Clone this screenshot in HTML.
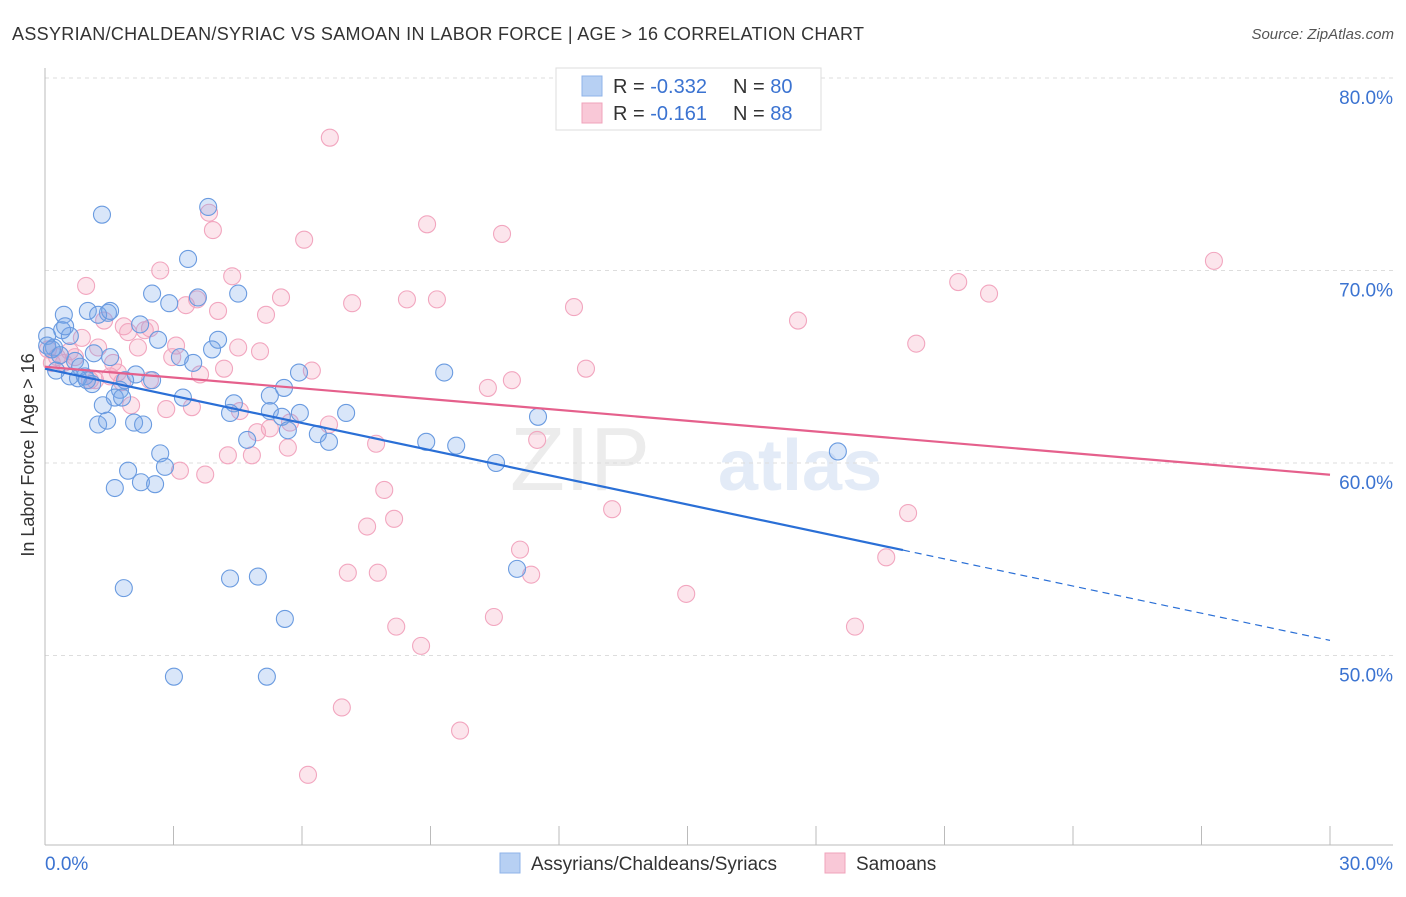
<!DOCTYPE html>
<html><head><meta charset="utf-8"><style>
body{margin:0;background:#fff;font-family:"Liberation Sans",sans-serif;}
svg text{font-family:"Liberation Sans",sans-serif;}
</style></head><body>
<svg id="chart" width="1406" height="892" xmlns="http://www.w3.org/2000/svg">
<text x="12" y="40" font-size="18" fill="#333" textLength="852" lengthAdjust="spacing">ASSYRIAN/CHALDEAN/SYRIAC VS SAMOAN IN LABOR FORCE | AGE &gt; 16 CORRELATION CHART</text>
<text x="1394" y="39" font-size="15" fill="#555" font-style="italic" text-anchor="end">Source: ZipAtlas.com</text>
<text x="650" y="490" font-size="90" fill="#ececec" font-family="Liberation Serif" text-anchor="end">ZIP</text>
<text x="718" y="490" font-size="72" fill="#e3ebf7" font-weight="bold">atlas</text>
<g id="grid"></g>
<g id="axes"></g>
<g id="pts"></g>
<g id="trend"></g>
<text x="34" y="455" font-size="18" fill="#333" text-anchor="middle" transform="rotate(-90 34 455)">In Labor Force | Age &gt; 16</text>
<g>
<rect x="556" y="68" width="265" height="62" fill="#fff" stroke="#ddd"/>
<rect x="582" y="76" width="20" height="20" fill="#b7d0f3" stroke="#8fb3e8"/>
<rect x="582" y="103" width="20" height="20" fill="#f9c8d7" stroke="#f0a3bb"/>
<text x="613" y="93" font-size="20" fill="#333">R = <tspan fill="#3b73d1">-0.332</tspan></text>
<text x="733" y="93" font-size="20" fill="#333">N = <tspan fill="#3b73d1">80</tspan></text>
<text x="613" y="120" font-size="20" fill="#333">R = <tspan fill="#3b73d1"> -0.161</tspan></text>
<text x="733" y="120" font-size="20" fill="#333">N = <tspan fill="#3b73d1"> 88</tspan></text>
</g>
<g>
<rect x="500" y="853" width="20" height="20" fill="#b7d0f3" stroke="#8fb3e8"/>
<text x="531" y="870" font-size="19" fill="#333">Assyrians/Chaldeans/Syriacs</text>
<rect x="825" y="853" width="20" height="20" fill="#f9c8d7" stroke="#f0a3bb"/>
<text x="856" y="870" font-size="19" fill="#333">Samoans</text>
</g>
</svg>
<script>
const blueX=[1.33,3.81,3.34,2.50,3.57,4.51,2.90,0.44,1.00,1.47,1.24,0.40,0.05,0.58,0.21,2.22,2.64,4.04,3.90,1.14,1.52,3.15,3.46,0.70,0.82,0.26,0.58,0.93,1.10,2.12,2.50,1.87,1.75,1.63,1.80,3.22,1.35,4.41,4.32,5.25,5.58,5.93,5.25,5.95,5.53,7.03,6.37,6.63,4.72,5.67,9.32,11.51,8.90,9.60,10.53,1.24,1.45,2.08,2.29,2.69,2.80,1.94,1.63,2.24,2.57,11.02,18.51,1.84,4.32,4.97,5.60,3.01,5.18,0.05,0.16,0.35,0.77,0.98,1.52,0.47];
const blueY=[72.9,73.3,70.6,68.8,68.6,68.8,68.3,67.7,67.9,67.8,67.7,66.9,66.6,66.6,66.0,67.2,66.4,66.4,65.9,65.7,65.5,65.5,65.2,65.3,65.0,64.8,64.5,64.5,64.1,64.6,64.3,64.3,63.8,63.4,63.4,63.4,63.0,63.1,62.6,63.5,63.9,64.7,62.7,62.6,62.4,62.6,61.5,61.1,61.2,61.7,64.7,62.4,61.1,60.9,60.0,62.0,62.2,62.1,62.0,60.5,59.8,59.6,58.7,59.0,58.9,54.5,60.6,53.5,54.0,54.1,51.9,48.9,48.9,66.1,65.9,65.6,64.4,64.3,67.9,67.1];
const pinkX=[6.65,14.03,3.83,3.92,8.92,10.67,6.05,27.29,2.69,4.37,0.96,21.32,22.04,5.51,7.17,8.45,9.15,12.35,3.29,3.55,4.04,5.16,17.58,1.38,1.84,2.45,1.94,2.33,0.86,1.24,2.17,3.06,4.51,5.02,20.34,0.07,0.28,0.44,0.16,1.59,2.97,3.62,4.18,6.23,12.63,10.90,10.34,1.80,1.52,1.05,2.83,3.43,4.55,2.01,5.25,4.95,6.63,7.73,11.49,3.15,3.74,4.27,4.83,5.67,7.92,7.52,8.15,13.24,20.15,19.64,11.09,7.07,7.77,11.35,14.97,10.48,8.20,8.78,18.91,6.93,9.69,6.14,0.58,0.70,1.17,2.45,1.70,5.72];
const pinkY=[76.9,78.0,73.0,72.1,72.4,71.9,71.6,70.5,70.0,69.7,69.2,69.4,68.8,68.6,68.3,68.5,68.5,68.1,68.2,68.5,67.9,67.7,67.4,67.4,67.1,67.0,66.8,66.9,66.5,66.0,66.0,66.1,66.0,65.8,66.2,65.9,65.5,65.2,65.2,65.2,65.5,64.6,64.9,64.8,64.9,64.3,63.9,64.2,64.5,64.3,62.8,62.9,62.7,63.0,61.8,61.6,62.0,61.0,61.2,59.6,59.4,60.4,60.4,60.8,58.6,56.7,57.1,57.6,57.4,55.1,55.5,54.3,54.3,54.2,53.2,52.0,51.5,50.5,51.5,47.3,46.1,43.8,65.8,65.5,64.3,64.3,64.7,62.1];
const blueTrend=[64.9,-0.4705];
const pinkTrend=[65.0,-0.187];
const yTicks=[50,60,70,80];
const yTickLabels=["50.0%","60.0%","70.0%","80.0%"];
const xTickLabels=["0.0%","30.0%"];
const X0=45,X1=1330;
const sx=v=>X0+(v/30)*(X1-X0);
const sy=v=>78+(80-v)*19.25;
const NS="http://www.w3.org/2000/svg";
function mk(parent,tag,attrs){const e=document.createElementNS(NS,tag);for(const k in attrs)e.setAttribute(k,attrs[k]);document.getElementById(parent).appendChild(e);return e;}
yTicks.forEach((t,i)=>{
 const g=mk('grid','line',{x1:X0,x2:1393,y1:sy(t),y2:sy(t),stroke:'#ddd','stroke-dasharray':'4 4'});
 
 
 const l=mk('grid','text',{x:1393,y:sy(t)+26,'font-size':19,fill:'#3b73d1','text-anchor':'end'});
 l.textContent=yTickLabels[i];
 
 
});
const ax=mk('axes','line',{x1:X0,x2:X0,y1:68,y2:845,stroke:'#bbb'});


const axb=mk('axes','line',{x1:X0,x2:1393,y1:845,y2:845,stroke:'#bbb'});


for(let i=0;i<=10;i++){const t=mk('axes','line',{x1:sx(i*3),x2:sx(i*3),y1:826,y2:845,stroke:'#bbb'});
 
 }
const xl0=mk('axes','text',{x:45,y:870,'font-size':19,fill:'#3b73d1'});xl0.textContent=xTickLabels[0];


const xl1=mk('axes','text',{x:1393,y:870,'font-size':19,fill:'#3b73d1','text-anchor':'end'});xl1.textContent=xTickLabels[1];


pinkX.forEach((v,i)=>{const c=mk('pts','circle',{cx:sx(v),cy:sy(pinkY[i]),r:8.5,fill:'rgba(244,160,188,0.28)',stroke:'#f2a6bf','stroke-width':1.1});
 
 });
blueX.forEach((v,i)=>{const c=mk('pts','circle',{cx:sx(v),cy:sy(blueY[i]),r:8.5,fill:'rgba(120,165,235,0.28)',stroke:'#6a9be0','stroke-width':1.1});
 
 });
const bEnd=20.03;
const b1=mk('trend','line',{x1:sx(0),y1:sy(blueTrend[0]),x2:sx(bEnd),y2:sy(blueTrend[0]+blueTrend[1]*bEnd),stroke:'#2a6fd6','stroke-width':2.2});


const b2=mk('trend','line',{x1:sx(bEnd),y1:sy(blueTrend[0]+blueTrend[1]*bEnd),x2:sx(30),y2:sy(blueTrend[0]+blueTrend[1]*30),stroke:'#2a6fd6','stroke-width':1.2,'stroke-dasharray':'7 5'});


const p1=mk('trend','line',{x1:sx(0),y1:sy(pinkTrend[0]),x2:sx(30),y2:sy(pinkTrend[0]+pinkTrend[1]*30),stroke:'#e5608c','stroke-width':2.2});


</script>
</body></html>
